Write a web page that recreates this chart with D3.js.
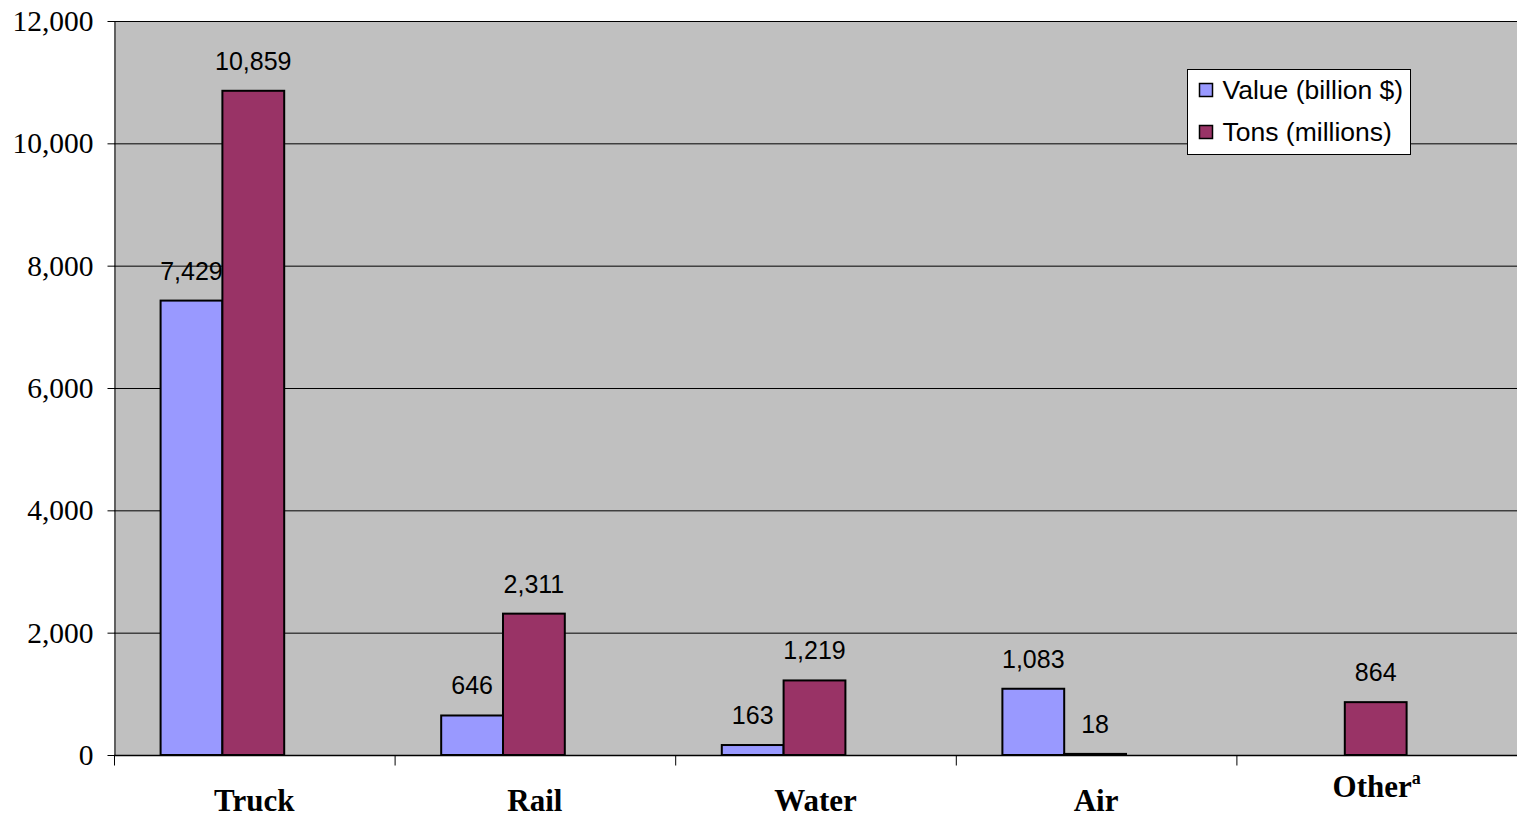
<!DOCTYPE html>
<html>
  <head>
    <meta charset="utf-8">
    <title>Freight by mode</title>
    <script src="https://d3js.org/d3.v7.min.js"></script>
    <style>
      body { margin: 0; background: #fff; }
      svg { display: block; }
      .tick text { font-family: "Liberation Serif", "Times New Roman", serif; }
      .val { font-family: "Liberation Sans", Arial, sans-serif; font-size: 25px; fill: #000; }
      .leg { font-family: "Liberation Sans", Arial, sans-serif; font-size: 26.5px; fill: #000; }
      .cat { font-family: "Liberation Serif", "Times New Roman", serif; font-size: 31px; font-weight: bold; }
    </style>
  </head>
  <body>
    <svg id="chart" width="1517" height="817"></svg>
    <script>
      // data
      var modes = ["Truck", "Rail", "Water", "Air", "Other"];
      var valueBillions = [7429, 646, 163, 1083, null];
      var tonsMillions = [10859, 2311, 1219, 18, 864];
      var seriesNames = ["Value (billion $)", "Tons (millions)"];
      var yTicks = [0, 2000, 4000, 6000, 8000, 10000, 12000];

      var colours = ["#9999FF", "#993366"];
      var margin = { top: 21, right: 0, bottom: 62, left: 114 };
      var width = 1517, height = 817;

      var svg = d3.select("#chart");

      var x0 = d3.scaleBand()
        .domain(modes)
        .range([margin.left, width - margin.right]);
      // Excel left room for a third (empty) series in each group
      var x1 = d3.scaleBand()
        .domain(["value", "tons", "blank"])
        .range([0, x0.bandwidth()])
        .paddingOuter(0.77);
      var y = d3.scaleLinear()
        .domain([0, 12000])
        .range([height - margin.bottom, margin.top]);

      // plot area
      svg.append("rect")
        .attr("x", margin.left)
        .attr("y", margin.top)
        .attr("width", width - margin.right - margin.left)
        .attr("height", y(0) - margin.top)
        .attr("fill", "#C0C0C0");

      // gridlines
      svg.append("g")
        .selectAll("line")
        .data(yTicks.slice(1))
        .enter().append("line")
          .attr("x1", margin.left)
          .attr("x2", width - margin.right)
          .attr("y1", function(d) { return y(d) + 0.5; })
          .attr("y2", function(d) { return y(d) + 0.5; })
          .attr("stroke", "#000")
          .attr("stroke-width", 1);

      // y axis
      var yAxis = d3.axisLeft(y)
        .tickValues(yTicks)
        .tickFormat(d3.format(","))
        .tickSize(7)
        .tickPadding(14)
        .tickSizeOuter(0);
      var yAxisGroup = svg.append("g")
        .attr("transform", "translate(" + (margin.left + 0.5) + ",0)")
        .call(yAxis);
      yAxisGroup.selectAll(".tick line").attr("stroke", "#000");
      yAxisGroup.select(".domain").attr("stroke", "#000");
      yAxisGroup.selectAll(".tick text")
        .attr("font-size", 29.5)
        .attr("fill", "#000");

      // bars
      var groups = svg.append("g")
        .selectAll("g")
        .data(modes)
        .enter().append("g")
          .attr("transform", function(d) { return "translate(" + x0(d) + ",0)"; });

      var rows = modes.map(function(m, i) {
        return [
          { key: "value", v: valueBillions[i], c: colours[0] },
          { key: "tons", v: tonsMillions[i], c: colours[1] }
        ].filter(function(d) { return d.v != null; });
      });

      groups.selectAll("rect")
        .data(function(d, i) { return rows[i]; })
        .enter().append("rect")
          .attr("x", function(d) { return x1(d.key) - 1; })
          .attr("y", function(d) { return y(d.v); })
          .attr("width", x1.bandwidth())
          .attr("height", function(d) { return y(0) - y(d.v); })
          .attr("fill", function(d) { return d.c; })
          .attr("stroke", "#000")
          .attr("stroke-width", 2);

      groups.selectAll("text")
        .data(function(d, i) { return rows[i]; })
        .enter().append("text")
          .attr("class", "val")
          .attr("text-anchor", "middle")
          .attr("x", function(d) { return x1(d.key) - 1 + x1.bandwidth() / 2; })
          .attr("y", function(d) { return y(d.v) - 21; })
          .text(function(d) { return d3.format(",")(d.v); });

      // x axis
      var xAxisGroup = svg.append("g")
        .attr("transform", "translate(0," + (y(0) + 0.5) + ")");
      xAxisGroup.append("line")
        .attr("x1", margin.left)
        .attr("x2", width - margin.right)
        .attr("stroke", "#000")
        .attr("stroke-width", 1.5);
      xAxisGroup.selectAll(".sep")
        .data(modes)
        .enter().append("line")
          .attr("class", "sep")
          .attr("x1", function(d) { return x0(d) + 0.5; })
          .attr("x2", function(d) { return x0(d) + 0.5; })
          .attr("y1", 0)
          .attr("y2", 10)
          .attr("stroke", "#000");

      xAxisGroup.selectAll(".cat")
        .data(modes)
        .enter().append("text")
          .attr("class", "cat")
          .attr("text-anchor", "middle")
          .attr("x", function(d) { return x0(d) + x0.bandwidth() / 2; })
          .attr("y", function(d) { return d === "Other" ? 41 : 55; })
          .each(function(d) {
            var t = d3.select(this);
            t.append("tspan").text(d);
            if (d === "Other") {
              t.append("tspan")
                .attr("font-size", 18)
                .attr("dy", -13)
                .text("a");
            }
          });

      // legend
      var legend = svg.append("g")
        .attr("transform", "translate(1187.5,69.5)");
      legend.append("rect")
        .attr("width", 223)
        .attr("height", 85)
        .attr("fill", "#fff")
        .attr("stroke", "#000")
        .attr("stroke-width", 1);
      var items = legend.selectAll(".item")
        .data(seriesNames)
        .enter().append("g")
          .attr("class", "item")
          .attr("transform", function(d, i) { return "translate(12," + (20 + i * 42) + ")"; });
      items.append("rect")
        .attr("x", 0)
        .attr("y", -6)
        .attr("width", 13)
        .attr("height", 13)
        .attr("fill", function(d, i) { return colours[i]; })
        .attr("stroke", "#000")
        .attr("stroke-width", 1.5);
      items.append("text")
        .attr("class", "leg")
        .attr("x", 23)
        .attr("y", 9)
        .text(function(d) { return d; });
    </script>
  </body>
</html>
